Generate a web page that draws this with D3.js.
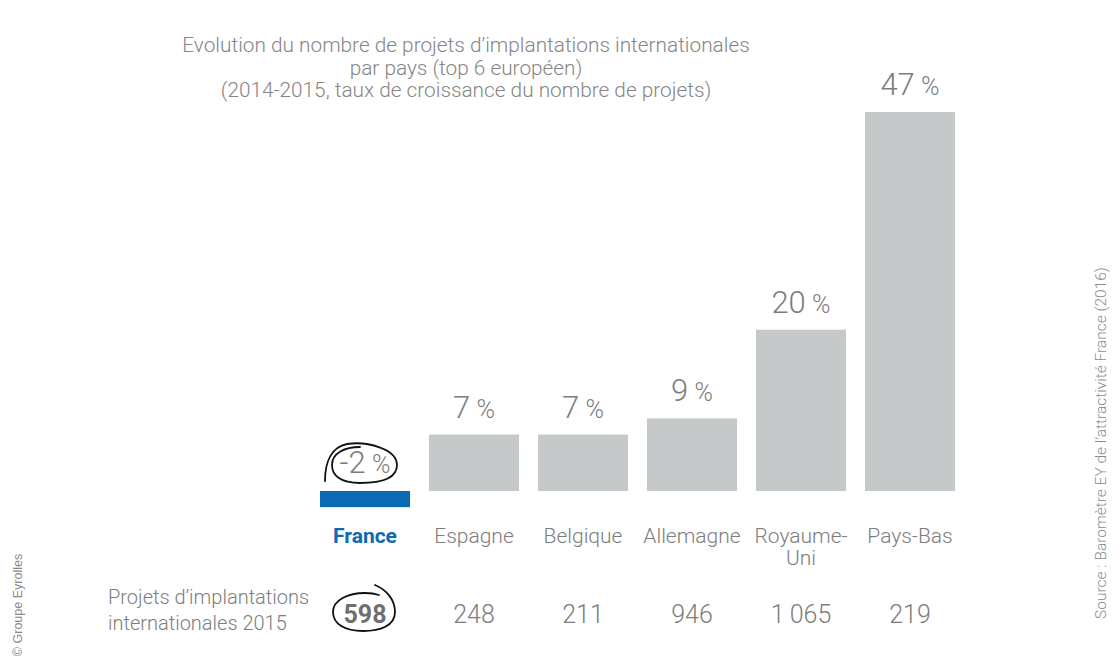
<!DOCTYPE html>
<html><head><meta charset="utf-8">
<script src="https://cdn.jsdelivr.net/npm/d3@7"></script>
<style>
html,body{margin:0;padding:0;background:#fff;}
svg{display:block;font-family:Roboto,"Noto Sans",sans-serif;}
</style></head>
<body><svg id="c" width="1120" height="667"></svg>
<script>
const categories = ["France","Espagne","Belgique","Allemagne","Royaume-Uni","Pays-Bas"];
const categoryLines = [["France"],["Espagne"],["Belgique"],["Allemagne"],["Royaume-","Uni"],["Pays-Bas"]];
const growth = [-2, 7, 7, 9, 20, 47];
const projects2015 = [598, 248, 211, 946, 1065, 219];
const titleLines = ["Evolution du nombre de projets d\u2019implantations internationales","par pays (top 6 européen)","(2014-2015, taux de croissance du nombre de projets)"];
const rowLabel = ["Projets d\u2019implantations","internationales 2015"];
const sourceText = "Source : Baromètre EY de l\u2019attractivité France (2016)";
const copyrightText = "© Groupe Eyrolles";

const svg = d3.select("#c");
const grey = "#7d7d7d", barGrey = "#c6c9ca", blue = "#0b6ab4";

const x = d3.scaleBand().domain(categories).range([320, 955]).paddingInner(19/109).paddingOuter(0);
const y = d3.scaleLinear().domain([0, 47]).range([491, 112]);
const fr = d3.formatLocale({decimal:",", thousands:"\u2009", grouping:[3], currency:["","€"]});
const fmt = fr.format(",d");

// title
svg.append("g").selectAll("text").data(titleLines).join("text")
  .attr("x", 466).attr("y", (d,i)=>52 + i*22.5)
  .attr("text-anchor","middle").attr("font-size",20.8).attr("font-weight",300)
  .attr("fill","#858585").text(d=>d);

// bars
svg.append("g").selectAll("rect").data(categories).join("rect")
  .attr("x", d=>x(d)).attr("width", x.bandwidth())
  .attr("y", (d,i)=>Math.min(y(growth[i]), y(0)))
  .attr("height", (d,i)=>Math.abs(y(growth[i]) - y(0)))
  .attr("fill", (d,i)=> i===0 ? blue : barGrey);

// percent labels
const pl = svg.append("g").selectAll("text").data(categories).join("text")
  .attr("x", d=>x(d)+x.bandwidth()/2)
  .attr("y", (d,i)=> (growth[i] < 0 ? y(0) - 18 : y(growth[i]) - 17))
  .attr("text-anchor","middle").attr("fill",grey).attr("font-weight",300).attr("font-size",31);
pl.append("tspan").text((d,i)=>growth[i] + "\u2009");
pl.append("tspan").attr("font-size",25).text("%");

// category labels
const cl = svg.append("g").selectAll("text").data(categories).join("text")
  .attr("x", d=>x(d)+x.bandwidth()/2).attr("y", 543)
  .attr("text-anchor","middle").attr("font-size",21)
  .attr("font-weight",(d,i)=>i===0?700:300)
  .attr("fill",(d,i)=>i===0?blue:grey);
cl.selectAll("tspan").data((d,i)=>categoryLines[i]).join("tspan")
  .attr("x", function(){return this.parentNode.getAttribute("x");})
  .attr("dy",(d,i)=>i===0?0:22).text(d=>d);

// projects row
svg.append("g").selectAll("text").data(categories).join("text")
  .attr("x", d=>x(d)+x.bandwidth()/2).attr("y", 623)
  .attr("text-anchor","middle").attr("font-size",25)
  .attr("font-weight",(d,i)=>i===0?700:300)
  .attr("fill",(d,i)=>i===0?"#6f6f6f":grey)
  .text((d,i)=>fmt(projects2015[i]));

svg.append("g").selectAll("text").data(rowLabel).join("text")
  .attr("x",108).attr("y",(d,i)=>604 + i*26)
  .attr("font-size",20).attr("font-weight",300).attr("fill",grey).text(d=>d);

// hand-drawn annotations
const cx = x("France")+x.bandwidth()/2;
const ann = svg.append("g").attr("fill","none").attr("stroke","#111").attr("stroke-width",1.8).attr("stroke-linecap","round");
// around -2 %
const py = y(0);
ann.append("path").attr("d",
  `M${cx-40},${py-10} C${cx-40},${py-30} ${cx-33},${py-44} ${cx-18},${py-47}
   C${cx+2},${py-50} ${cx+32},${py-42} ${cx+32},${py-26}
   C${cx+32},${py-12} ${cx+15},${py-8} ${cx-5},${py-8}
   C${cx-25},${py-8} ${cx-33},${py-16} ${cx-33},${py-26}
   C${cx-33},${py-38} ${cx-20},${py-44} ${cx-5},${py-44}`);
// around 598
const ny = 612;
ann.append("path").attr("d",
  `M${cx+10},${ny-27} C${cx+22},${ny-22} ${cx+30},${ny-12} ${cx+30},${ny}
   C${cx+30},${ny+14} ${cx+15},${ny+19} ${cx-2},${ny+19}
   C${cx-20},${ny+19} ${cx-32},${ny+12} ${cx-32},${ny}
   C${cx-32},${ny-12} ${cx-17},${ny-19} ${cx},${ny-19}
   C${cx+6},${ny-19} ${cx+11},${ny-18} ${cx+14},${ny-17}`);

// source & copyright
svg.append("text").attr("transform","translate(1106,443) rotate(-90)")
  .attr("text-anchor","middle").attr("font-size",15.5).attr("font-weight",300)
  .attr("fill","#8a8a8a").text(sourceText);
svg.append("text").attr("transform","translate(22,605) rotate(-90)")
  .attr("text-anchor","middle").attr("font-family","Liberation Sans, Arial, sans-serif")
  .attr("font-size",12.5).attr("fill","#8a8a8a").text(copyrightText);
</script>
</body></html>
